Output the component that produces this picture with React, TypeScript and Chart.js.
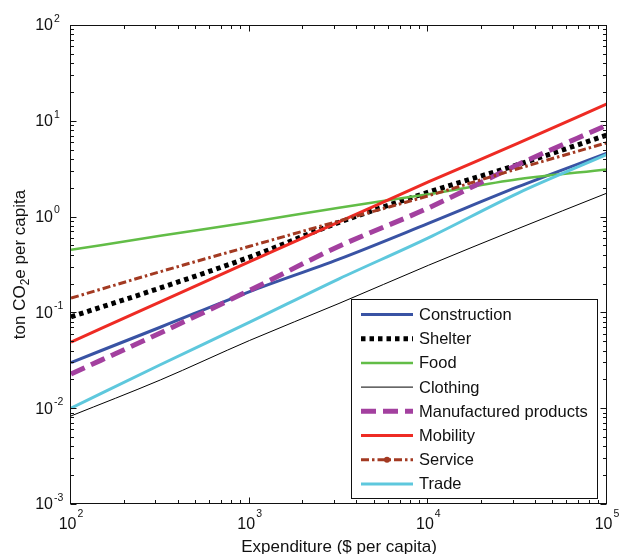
import React, { useEffect, useRef } from "react";
import { Chart, registerables } from "chart.js";

Chart.register(...registerables);

// Expenditure ($ per capita) sample points
const expenditure = [100, 316, 1000, 3162, 10000, 31623, 100000];

// ton CO2e per capita
const construction = [0.030, 0.070, 0.165, 0.36, 0.85, 2.04, 4.6];
const shelter = [0.090, 0.18, 0.378, 0.87, 1.8, 3.48, 7.1];
const food = [0.45, 0.63, 0.875, 1.24, 1.71, 2.45, 3.1];
const clothing = [0.0083, 0.0197, 0.051, 0.124, 0.31, 0.746, 1.76];
const manufactured = [0.0228, 0.061, 0.17, 0.49, 1.23, 3.48, 9.0];
const mobility = [0.049, 0.129, 0.338, 0.88, 2.3, 5.8, 15];
const service = [0.141, 0.266, 0.49, 0.9, 1.65, 3.16, 5.9];
const trade = [0.010, 0.0284, 0.079, 0.224, 0.6, 1.75, 4.45];

const seriesNames = [
  "Construction",
  "Shelter",
  "Food",
  "Clothing",
  "Manufactured products",
  "Mobility",
  "Service",
  "Trade",
];
const seriesValues = [construction, shelter, food, clothing, manufactured, mobility, service, trade];

// tick label exponents (10^n)
const xTickExps = [2, 3, 4, 5];
const yTickExps = [-3, -2, -1, 0, 1, 2];

const xTitle = "Expenditure ($ per capita)";
const yTitleParts = ["ton CO", "2", "e per capita"];

const styles = [
  { color: "#3953a4", width: 3, dash: [] as number[] },
  { color: "#000000", width: 5, dash: [4.5, 4] },
  { color: "#62bd47", width: 2.5, dash: [] as number[] },
  { color: "#000000", width: 1, dash: [] as number[] },
  { color: "#a3409f", width: 5, dash: [15, 7] },
  { color: "#ee2b24", width: 3, dash: [] as number[] },
  { color: "#a33a22", width: 3, dash: [8, 3, 2.5, 3] },
  { color: "#5ec8dd", width: 3, dash: [] as number[] },
];

const FONT = '"Liberation Sans", Arial, Helvetica, sans-serif';

const framePlugin = {
  id: "frame",
  afterDatasetsDraw(chart: any) {
    const { ctx, chartArea: a, scales } = chart;
    const xs = scales.x;
    const ys = scales.y;
    ctx.save();
    ctx.strokeStyle = "#111";
    ctx.lineWidth = 1;
    ctx.setLineDash([]);
    const L = Math.round(a.left) - 0.5;
    const R = Math.round(a.right) - 0.5;
    const T = Math.round(a.top) + 0.5;
    const B = Math.round(a.bottom) - 0.5;
    ctx.strokeRect(L, T, R - L, B - T);

    // ticks
    ctx.beginPath();
    for (let d = 2; d <= 5; d++) {
      for (let m = 1; m <= 9; m++) {
        const v = m * Math.pow(10, d);
        if (v < 100 || v > 100000) continue;
        const px = Math.round(xs.getPixelForValue(v)) - 0.5;
        const len = m === 1 ? 6 : 3.5;
        ctx.moveTo(px, B);
        ctx.lineTo(px, B - len);
        ctx.moveTo(px, T);
        ctx.lineTo(px, T + len);
      }
    }
    for (let d = -3; d <= 2; d++) {
      for (let m = 1; m <= 9; m++) {
        const v = m * Math.pow(10, d);
        if (v < 0.001 || v > 100.0001) continue;
        const py = Math.round(ys.getPixelForValue(v)) + 0.5;
        const len = m === 1 ? 6 : 3.5;
        ctx.moveTo(L, py);
        ctx.lineTo(L + len, py);
        ctx.moveTo(R, py);
        ctx.lineTo(R - len, py);
      }
    }
    ctx.stroke();

    // tick labels
    ctx.fillStyle = "#111";
    const big = "16px " + FONT;
    const small = "10.5px " + FONT;
    for (const e of yTickExps) {
      const py = ys.getPixelForValue(Math.pow(10, e));
      ctx.font = big;
      ctx.textAlign = "right";
      ctx.textBaseline = "middle";
      ctx.fillText("10", a.left - 18, py + 1);
      ctx.font = small;
      ctx.textAlign = "left";
      ctx.fillText(String(e), a.left - 17, py - 6);
    }
    for (const e of xTickExps) {
      const px = xs.getPixelForValue(Math.pow(10, e));
      ctx.font = big;
      const w1 = ctx.measureText("10").width;
      ctx.font = small;
      const w2 = ctx.measureText(String(e)).width;
      const start = px - (w1 + w2 + 1) / 2;
      ctx.font = big;
      ctx.textAlign = "left";
      ctx.textBaseline = "middle";
      ctx.fillText("10", start, a.bottom + 21);
      ctx.font = small;
      ctx.fillText(String(e), start + w1 + 1, a.bottom + 10);
    }

    // axis titles
    const tfont = "17px " + FONT;
    const sfont = "12px " + FONT;
    ctx.font = tfont;
    ctx.textAlign = "center";
    ctx.textBaseline = "middle";
    ctx.fillText(xTitle, (a.left + a.right) / 2, a.bottom + 43);

    ctx.save();
    ctx.translate(20, (a.top + a.bottom) / 2);
    ctx.rotate(-Math.PI / 2);
    ctx.font = tfont;
    const wa = ctx.measureText(yTitleParts[0]).width;
    const wc = ctx.measureText(yTitleParts[2]).width;
    ctx.font = sfont;
    const wb = ctx.measureText(yTitleParts[1]).width;
    let sx = -(wa + wb + wc) / 2;
    ctx.textAlign = "left";
    ctx.font = tfont;
    ctx.fillText(yTitleParts[0], sx, 0);
    sx += wa;
    ctx.font = sfont;
    ctx.fillText(yTitleParts[1], sx, 6);
    sx += wb;
    ctx.font = tfont;
    ctx.fillText(yTitleParts[2], sx, 0);
    ctx.restore();

    // legend
    const lx = 351.5, ly = 299.5, lw = 246, lh = 199;
    ctx.fillStyle = "#ffffff";
    ctx.fillRect(lx, ly, lw, lh);
    ctx.strokeStyle = "#111";
    ctx.lineWidth = 1;
    ctx.setLineDash([]);
    ctx.strokeRect(lx, ly, lw, lh);
    const dsets = chart.data.datasets;
    ctx.font = "16.5px " + FONT;
    ctx.textAlign = "left";
    ctx.textBaseline = "middle";
    dsets.forEach((ds: any, i: number) => {
      const cy = 314.5 + i * 24.2;
      ctx.save();
      ctx.strokeStyle = ds.borderColor;
      ctx.lineWidth = ds.borderWidth;
      ctx.setLineDash(ds.borderDash || []);
      ctx.lineCap = "butt";
      ctx.beginPath();
      ctx.moveTo(361, cy);
      ctx.lineTo(413, cy);
      ctx.stroke();
      if (ds.label === "Service") {
        ctx.setLineDash([]);
        ctx.fillStyle = ds.borderColor;
        ctx.beginPath();
        ctx.arc(387, cy, 3, 0, Math.PI * 2);
        ctx.fill();
      }
      ctx.restore();
      ctx.fillStyle = "#111";
      ctx.fillText(ds.label, 419, cy + 1);
    });
    ctx.restore();
  },
};

export default function App() {
  const ref = useRef<HTMLCanvasElement | null>(null);
  useEffect(() => {
    if (!ref.current) return;
    const datasets = seriesNames.map((name, i) => ({
      label: name,
      data: expenditure.map((x, j) => ({ x, y: seriesValues[i][j] })),
      borderColor: styles[i].color,
      backgroundColor: styles[i].color,
      borderWidth: styles[i].width,
      borderDash: styles[i].dash,
      borderCapStyle: "butt",
      pointRadius: 0,
      fill: false,
      cubicInterpolationMode: "monotone",
      order: -i,
    }));
    const chart = new Chart(ref.current, {
      type: "line",
      data: { datasets } as any,
      options: {
        animation: false,
        responsive: false,
        layout: { padding: { left: 71, right: 13, top: 25, bottom: 50 } },
        plugins: { legend: { display: false }, tooltip: { enabled: false } },
        scales: {
          x: { type: "logarithmic", min: 100, max: 100000, display: false },
          y: { type: "logarithmic", min: 0.001, max: 100, display: false },
        },
      } as any,
      plugins: [framePlugin],
    });
    return () => chart.destroy();
  }, []);
  return (
    <div style={{ position: "fixed", left: 0, top: 0, width: 620, height: 554, background: "#fff" }}>
      <canvas ref={ref} width={620} height={554} />
    </div>
  );
}
